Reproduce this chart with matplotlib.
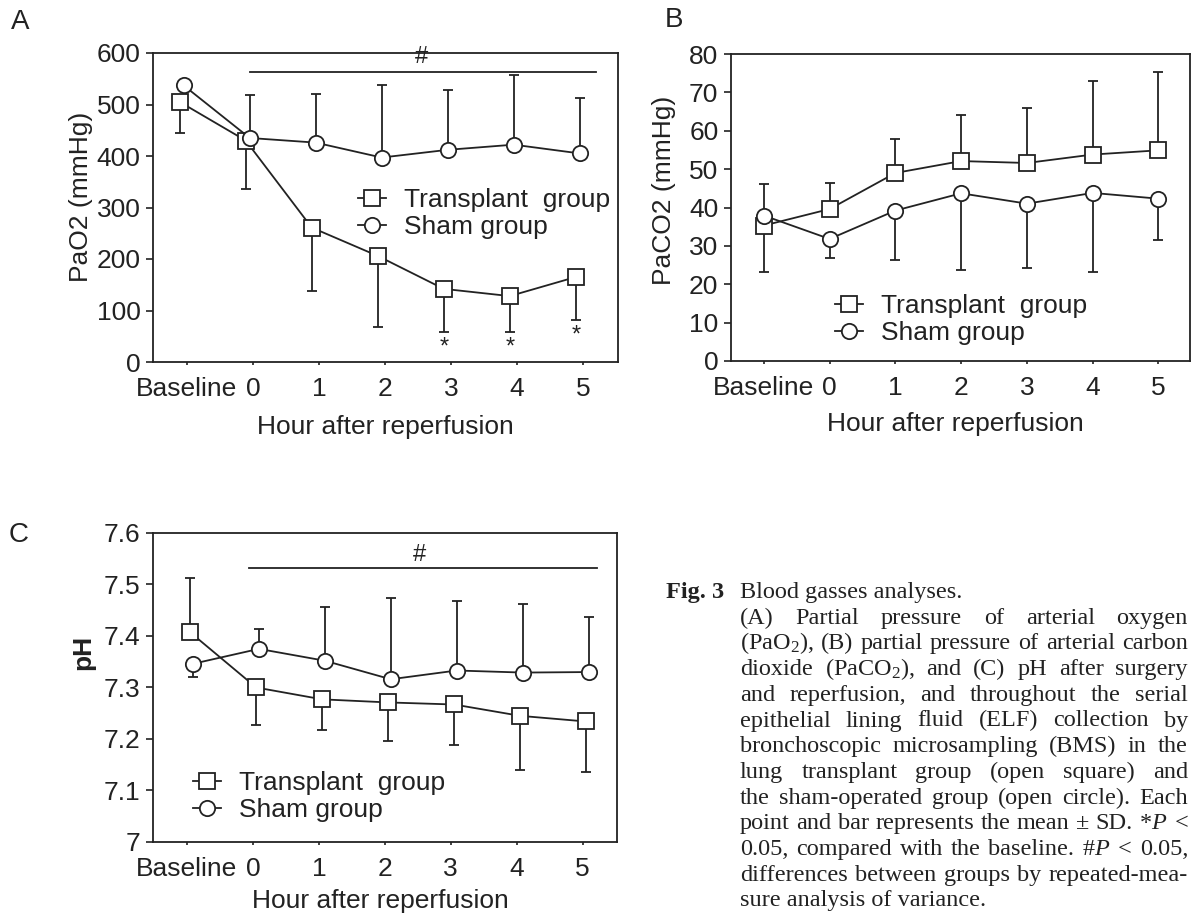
import numpy as np
import matplotlib
matplotlib.use("Agg")
import matplotlib.pyplot as plt
from matplotlib.transforms import IdentityTransform

plt.rcParams['font.family'] = ['Liberation Sans', 'DejaVu Sans']
plt.rcParams['mathtext.fontset'] = 'custom'
plt.rcParams['mathtext.rm'] = 'Liberation Serif'
plt.rcParams['mathtext.it'] = 'Liberation Serif:italic'

ink = "#222222"
W, H = 1192, 914

# x categories
tick_labels = ["Baseline", "0", "1", "2", "3", "4", "5"]

# (A) PaO2, mmHg  -- error bars are one-sided in the figure
pao2_transplant = [505, 430, 261, 206, 142, 128, 165]
pao2_transplant_lo = [61, 95, 124, 138, 84, 70, 83]
pao2_transplant_hi = [0, 0, 0, 0, 0, 0, 0]
pao2_sham = [537, 435, 426, 397, 412, 422, 405]
pao2_sham_lo = [0, 0, 0, 0, 0, 0, 0]
pao2_sham_hi = [0, 84, 94, 141, 116, 135, 107]
star_idx = [4, 5, 6]
star_y = [29, 29, 52]

# (B) PaCO2, mmHg
paco2_transplant = [35.3, 39.6, 49.0, 52.1, 51.6, 53.8, 54.9]
paco2_transplant_lo = [0, 0, 0, 0, 0, 0, 0]
paco2_transplant_hi = [10.9, 6.7, 8.9, 12.1, 14.3, 19.1, 20.5]
paco2_sham = [37.9, 31.8, 39.2, 43.7, 41.0, 43.8, 42.3]
paco2_sham_lo = [14.7, 5.0, 13.0, 19.9, 16.8, 20.7, 10.7]
paco2_sham_hi = [0, 0, 0, 0, 0, 0, 0]

# (C) pH
ph_transplant = [7.407, 7.300, 7.277, 7.271, 7.267, 7.245, 7.234]
ph_transplant_lo = [0, 0.073, 0.060, 0.075, 0.079, 0.106, 0.098]
ph_transplant_hi = [0.105, 0, 0, 0, 0, 0, 0]
ph_sham = [7.346, 7.375, 7.352, 7.316, 7.333, 7.329, 7.330]
ph_sham_lo = [0.026, 0, 0, 0, 0, 0, 0]
ph_sham_hi = [0, 0.038, 0.105, 0.158, 0.134, 0.134, 0.106]

caption_lines = [
    "(A) Partial pressure of arterial oxygen",
    r"(Pa$\mathrm{O}_2$), (B) partial pressure of arterial carbon",
    r"dioxide (Pa$\mathrm{CO}_2$), and (C) pH after surgery",
    "and reperfusion, and throughout the serial",
    "epithelial lining fluid (ELF) collection by",
    "bronchoscopic microsampling (BMS) in the",
    "lung transplant group (open square) and",
    "the sham-operated group (open circle). Each",
    r"point and bar represents the mean ± SD. *$P$ <",
    r"0.05, compared with the baseline. #$P$ < 0.05,",
    "differences between groups by repeated-mea-",
]
caption_last = "sure analysis of variance."

fs = 19

fig = plt.figure(figsize=(W / 100, H / 100), dpi=100)


def px_axes(left, top, right, bottom):
    return fig.add_axes([left / W, 1 - bottom / H, (right - left) / W, (bottom - top) / H])


def draw_panel(ax, tr, tr_lo, tr_hi, sh, sh_lo, sh_hi, dx_t, dx_s):
    x = np.arange(len(tick_labels))
    ax.errorbar(x + dx_t, tr, yerr=[tr_lo, tr_hi], fmt='none', ecolor=ink,
                elinewidth=1.3, capsize=3.5, capthick=1.3, zorder=2)
    ax.errorbar(x + dx_s, sh, yerr=[sh_lo, sh_hi], fmt='none', ecolor=ink,
                elinewidth=1.3, capsize=3.5, capthick=1.3, zorder=2)
    lt, = ax.plot(x + dx_t, tr, '-s', color=ink, mfc='white', mec=ink, ms=11,
                  mew=1.3, lw=1.3, zorder=3, label="Transplant  group")
    ls, = ax.plot(x + dx_s, sh, '-o', color=ink, mfc='white', mec=ink, ms=11,
                  mew=1.3, lw=1.3, zorder=4, label="Sham group")
    ax.set_xticks(x)
    ax.set_xticklabels(tick_labels)
    ax.tick_params(axis='y', direction='out', length=5, width=1.2, pad=4,
                   labelsize=fs, colors=ink)
    ax.tick_params(axis='x', direction='out', length=2, width=1.2, pad=9,
                   labelsize=fs, colors=ink)
    for s in ax.spines.values():
        s.set_linewidth(1.3)
        s.set_color(ink)
    return lt, ls


def add_legend(ax, handles, lx, ly):
    ax.legend(handles=handles, loc='upper left', bbox_to_anchor=(lx / W, 1 - ly / H),
              bbox_transform=fig.transFigure, frameon=False, borderpad=0,
              borderaxespad=0, handlelength=1.05, handletextpad=0.7,
              labelspacing=0.12, fontsize=fs, labelcolor=ink)


def set_labels(ax, xl, xl_pos, yl, yl_pos, **kw):
    ax.set_xlabel(xl, fontsize=fs, color=ink, va='center')
    ax.xaxis.set_label_coords(*xl_pos)
    ax.set_ylabel(yl, fontsize=fs, color=ink, va='center', **kw)
    ax.yaxis.set_label_coords(*yl_pos)


# ---- A ----
axA = px_axes(153, 53, 618, 362)
hA = draw_panel(axA, pao2_transplant, pao2_transplant_lo, pao2_transplant_hi,
                pao2_sham, pao2_sham_lo, pao2_sham_hi, -0.11, -0.05)
axA.set_xlim(-0.515, 6.53)
axA.set_ylim(0, 600)
axA.set_yticks(np.arange(0, 601, 100))
axA.plot([0.95, 6.2], [563, 563], color=ink, lw=1.3)
axA.text(3.56, 592, "#", ha='center', va='center', fontsize=17, color=ink)
for i, yv in zip(star_idx, star_y):
    axA.text(i - 0.11, yv, "*", ha='center', va='center', fontsize=17, color=ink)
set_labels(axA, "Hour after reperfusion", (0.5, -0.21), "PaO2 (mmHg)", (-0.155, 0.534))
add_legend(axA, hA, 358, 188)

# ---- B ----
axB = px_axes(731, 54, 1190, 361)
hB = draw_panel(axB, paco2_transplant, paco2_transplant_lo, paco2_transplant_hi,
                paco2_sham, paco2_sham_lo, paco2_sham_hi, 0.0, 0.0)
axB.set_xlim(-0.50, 6.48)
axB.set_ylim(0, 80)
axB.set_yticks(np.arange(0, 81, 10))
set_labels(axB, "Hour after reperfusion", (0.488, -0.205), "PaCO2 (mmHg)", (-0.146, 0.557))
add_legend(axB, hB, 835, 294)

# ---- C ----
axC = px_axes(153, 533, 617, 842)
hC = draw_panel(axC, ph_transplant, ph_transplant_lo, ph_transplant_hi,
                ph_sham, ph_sham_lo, ph_sham_hi, 0.05, 0.09)
axC.set_xlim(-0.515, 6.52)
axC.set_ylim(7.0, 7.6)
axC.set_yticks([7.0, 7.1, 7.2, 7.3, 7.4, 7.5, 7.6])
axC.set_yticklabels(["7", "7.1", "7.2", "7.3", "7.4", "7.5", "7.6"])
axC.plot([0.94, 6.22], [7.532, 7.532], color=ink, lw=1.3)
axC.text(3.53, 7.557, "#", ha='center', va='center', fontsize=17, color=ink)
set_labels(axC, "Hour after reperfusion", (0.49, -0.192), "pH", (-0.151, 0.612),
           fontweight='bold')
add_legend(axC, hC, 193, 771)

# panel letters
for lab, (px, py) in {"A": (20, 22), "B": (674, 20), "C": (19, 535)}.items():
    fig.text(px / W, 1 - py / H, lab, ha='center', va='center', fontsize=20, color=ink)

# ---- caption, justified inside the figure ----
cap_fs = 17.5
x0, x1 = 740, 1188
base0, step = 598, 25.7
serif = 'Liberation Serif'
fig.text(666, H - base0, "Fig. 3", transform=IdentityTransform(), fontsize=cap_fs,
         family=serif, fontweight='bold', va='baseline', color=ink)
fig.text(x0, H - base0, "Blood gasses analyses.", transform=IdentityTransform(),
         fontsize=cap_fs, family=serif, va='baseline', color=ink)

renderer = fig.canvas.get_renderer()
for k, line in enumerate(caption_lines):
    yb = H - (base0 + step * (k + 1))
    words = line.split(" ")
    texts = [fig.text(0, yb, w, transform=IdentityTransform(), fontsize=cap_fs,
                      family=serif, va='baseline', color=ink) for w in words]
    widths = [t.get_window_extent(renderer).width for t in texts]
    gap = (x1 - x0 - sum(widths)) / (len(words) - 1)
    if gap < 3:
        # squeeze the font a bit so the line still fits
        shrink = (x1 - x0 - 3 * (len(words) - 1)) / sum(widths)
        for t in texts:
            t.set_fontsize(cap_fs * shrink)
        widths = [w * shrink for w in widths]
        gap = 3
    xx = x0
    for t, w in zip(texts, widths):
        t.set_x(xx)
        xx += w + gap
fig.text(x0, H - (base0 + step * (len(caption_lines) + 1)), caption_last,
         transform=IdentityTransform(), fontsize=cap_fs, family=serif,
         va='baseline', color=ink)

fig.savefig("out.png", dpi=100)
